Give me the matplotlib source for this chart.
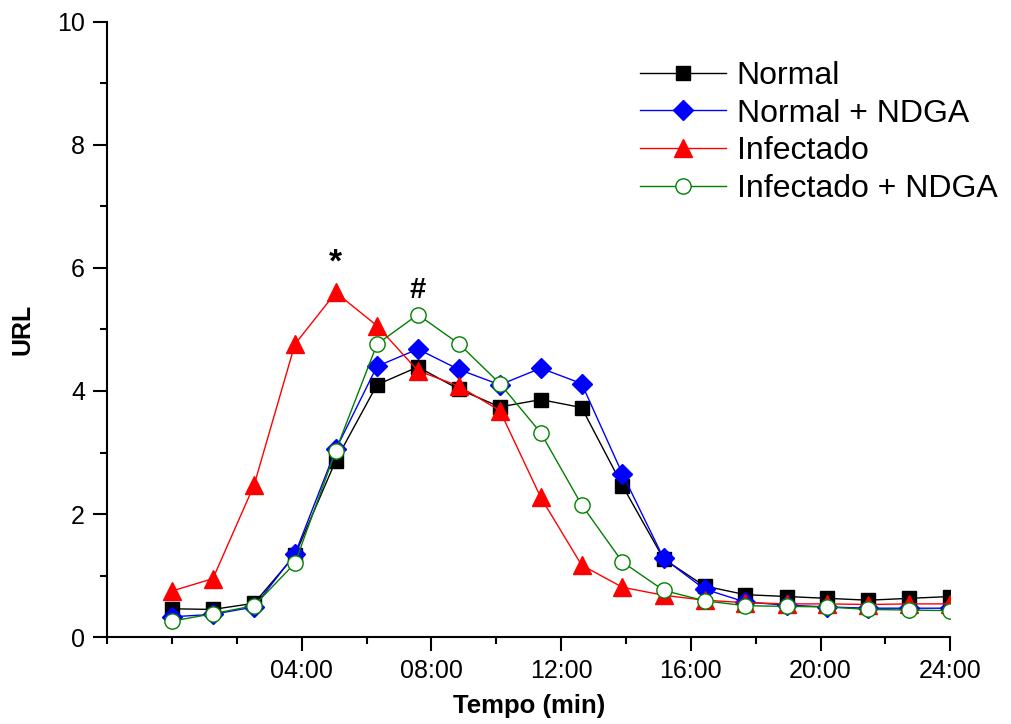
import matplotlib.pyplot as plt

plt.rcParams['font.family'] = ['Liberation Sans', 'DejaVu Sans']

# time points (min) and URL readings
tempo = [0.0, 1.26, 2.53, 3.79, 5.05, 6.32, 7.58, 8.84, 10.11, 11.37,
         12.63, 13.89, 15.16, 16.42, 17.68, 18.95, 20.21, 21.47, 22.74, 24.0]

normal = [0.46, 0.45, 0.55, 1.33, 2.87, 4.10, 4.39, 4.03, 3.74, 3.86,
          3.73, 2.46, 1.27, 0.83, 0.69, 0.66, 0.63, 0.60, 0.63, 0.66]
normal_ndga = [0.33, 0.37, 0.49, 1.35, 3.05, 4.40, 4.68, 4.35, 4.10, 4.37,
               4.12, 2.65, 1.28, 0.78, 0.57, 0.52, 0.49, 0.47, 0.47, 0.47]
infectado = [0.75, 0.95, 2.47, 4.76, 5.60, 5.06, 4.33, 4.08, 3.68, 2.27,
             1.17, 0.81, 0.68, 0.60, 0.56, 0.54, 0.54, 0.53, 0.54, 0.54]
infectado_ndga = [0.26, 0.38, 0.51, 1.20, 3.03, 4.76, 5.24, 4.77, 4.12, 3.32,
                  2.15, 1.22, 0.76, 0.59, 0.51, 0.50, 0.49, 0.45, 0.44, 0.43]

xticks = [4, 8, 12, 16, 20, 24]
xticklabels = ['04:00', '08:00', '12:00', '16:00', '20:00', '24:00']
yticks = [0, 2, 4, 6, 8, 10]

fig = plt.figure(figsize=(10.11, 7.24), dpi=100)
ax = fig.add_axes([0.106, 0.12, 0.834, 0.85])

ax.plot(tempo, normal, color='black', lw=1, marker='s', ms=10.5,
        mfc='black', mec='black', label='Normal')
ax.plot(tempo, normal_ndga, color='blue', lw=1, marker='D', ms=10,
        mfc='blue', mec='blue', label='Normal + NDGA')
ax.plot(tempo, infectado, color='red', lw=1, marker='^', ms=13,
        mfc='red', mec='red', label='Infectado')
ax.plot(tempo, infectado_ndga, color='green', lw=1, marker='o', ms=11,
        mfc='white', mec='green', label='Infectado + NDGA')

ax.text(5.05, 5.6 + 0.22, '*', ha='center', va='bottom', fontsize=24, fontweight='bold')
ax.text(7.58, 5.24 + 0.18, '#', ha='center', va='bottom', fontsize=21, fontweight='bold')

ax.set_xlim(-2, 24)
ax.set_ylim(0, 10)
ax.set_xticks(xticks)
ax.set_xticklabels(xticklabels)
ax.set_xticks([-2, 0, 2, 6, 10, 14, 18, 22], minor=True)
ax.set_yticks(yticks)
ax.set_yticks([1, 3, 5, 7, 9], minor=True)

for side in ['top', 'right']:
    ax.spines[side].set_visible(False)
for side in ['left', 'bottom']:
    ax.spines[side].set_linewidth(1.5)

ax.tick_params(axis='both', which='major', direction='out', length=10, width=1.5,
               labelsize=18, pad=6)
ax.tick_params(axis='both', which='minor', direction='out', length=5, width=1.5)

ax.set_xlabel('Tempo (min)', fontsize=18.5, fontweight='bold', labelpad=8)
ax.set_ylabel('URL', fontsize=18, fontweight='bold', labelpad=16)

fig.legend(*ax.get_legend_handles_labels(), loc='upper left',
           bbox_to_anchor=(640 / 1011, 1 - 61 / 724), frameon=False, fontsize=23,
           handlelength=2.7, handletextpad=0.33, labelspacing=0.24, borderpad=0,
           borderaxespad=0)

fig.savefig('out.png', dpi=100)
